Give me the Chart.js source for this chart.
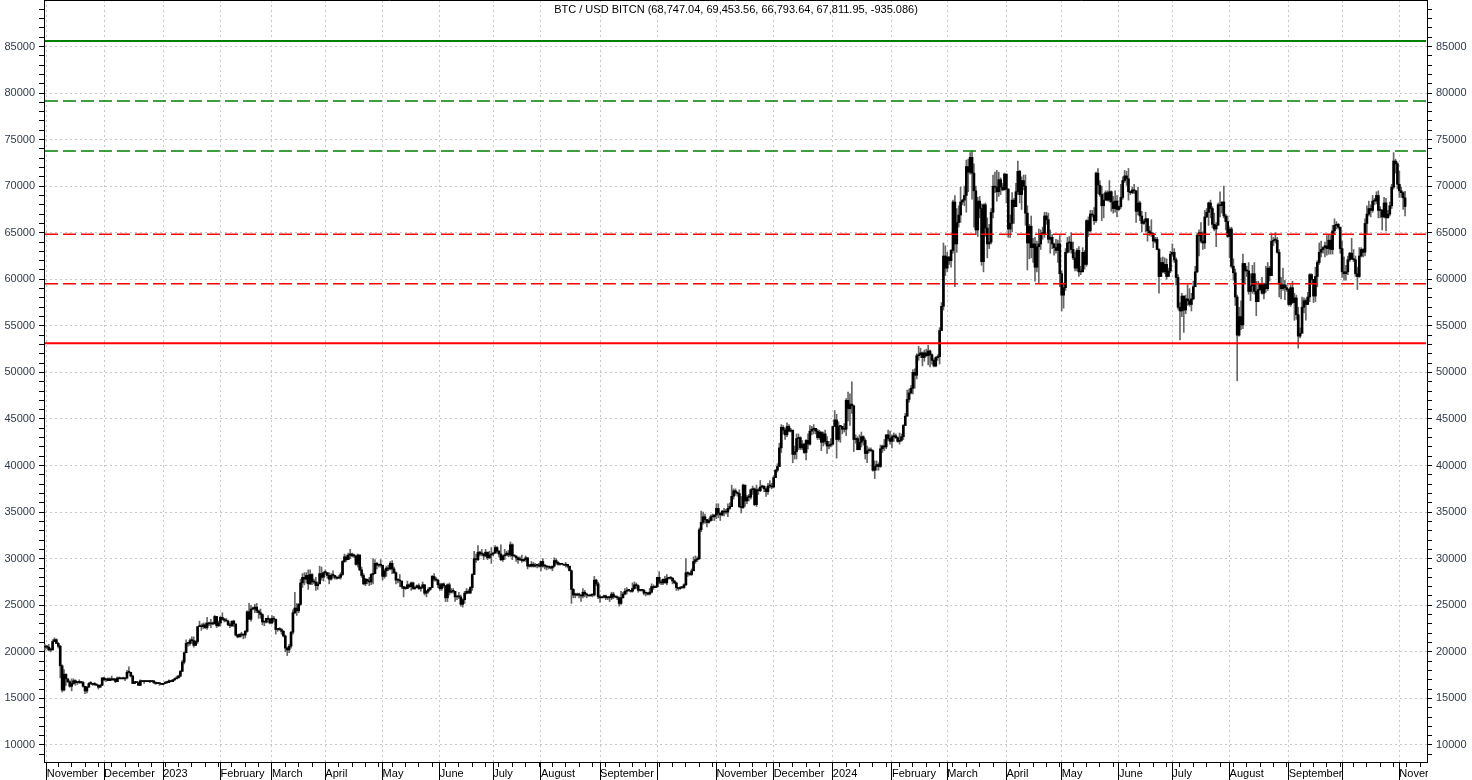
<!DOCTYPE html>
<html>
<head>
<meta charset="utf-8">
<style>
  html, body { margin: 0; padding: 0; background: #fff; }
  #chart { display: block; }
</style>
<script src="https://cdn.jsdelivr.net/npm/chart.js@4.4.1/dist/chart.umd.min.js"></script>
</head>
<body>
<canvas id="chart" width="1472" height="780"></canvas>
<script>
const titleText = 'BTC / USD BITCN (68,747.04, 69,453.56, 66,793.64, 67,811.95, -935.086)';

// month names as printed under the axis (October is not printed on the source)
const monthLabels = ['', 'November', 'December', '2023', 'February', 'March', 'April', 'May', 'June', 'July',
    'August', 'September', '', 'November', 'December', '2024', 'February', 'March', 'April', 'May', 'June',
    'July', 'August', 'September', '', 'November'];
// daily bars present in each of those months
const monthBarCounts = [1, 30, 31, 30, 27, 28, 30, 30, 28, 25, 31, 30, 31, 30, 31, 31, 29, 31, 29, 30, 28, 30, 31, 28, 30, 4];
const emptyBarsAfter = 11;

// daily values, thousands of USD, one row per month
const closesK = [
    20.5,
    20.5,20.2,20.2,21.1,21.3,20.9,20.6,18.5,15.9,17.6,17.1,16.8,16.3,16.6,16.9,16.7,16.7,16.7,16.7,16.3,15.8,16.2,16.6,16.6,16.5,16.5,16.4,16.2,16.4,17.2,
    17.0,17.1,16.9,17.1,17.0,17.1,16.8,17.2,17.1,17.1,17.1,17.2,17.8,17.8,17.4,16.6,16.8,16.7,16.4,16.9,16.8,16.8,16.8,16.8,16.8,16.9,16.7,16.6,16.6,16.6,16.5,
    16.6,16.7,16.7,16.9,16.8,17.0,17.1,17.2,17.4,17.9,18.9,19.9,20.9,20.9,21.2,21.2,20.7,21.1,22.7,22.8,22.7,22.9,22.6,23.1,23.0,23.1,23.0,23.8,22.8,23.1,
    23.7,23.5,23.4,23.3,22.9,22.8,23.3,23.0,21.8,21.6,21.9,21.8,21.8,22.2,24.3,23.5,24.6,24.6,24.8,24.4,24.2,24.0,23.2,23.2,23.6,23.5,23.1,
    23.6,23.5,22.4,22.4,22.4,22.2,21.7,20.4,20.2,20.6,22.1,24.2,24.7,24.4,25.1,27.4,28.0,27.8,28.2,27.3,28.3,27.5,27.5,27.1,27.3,28.4,28.0,28.5,
    28.5,28.2,27.8,28.2,28.2,28.0,27.9,28.0,28.3,29.7,30.2,29.9,30.4,30.5,30.3,30.3,29.4,30.4,28.8,28.2,27.3,27.8,27.6,27.5,28.3,28.4,29.5,29.3,29.3,29.3,
    28.1,28.7,29.0,28.9,29.5,28.9,28.5,27.7,27.7,27.6,27.0,26.8,26.8,27.2,27.0,27.4,26.8,26.9,27.1,26.8,26.9,27.2,26.3,26.5,26.7,26.9,28.1,27.8,27.7,27.2,
    26.8,27.3,27.1,25.8,27.2,26.4,26.5,26.5,25.9,25.9,25.9,25.1,25.6,26.3,26.5,26.3,26.9,28.3,30.0,29.9,30.7,30.5,30.5,30.3,30.7,30.1,30.4,30.5,
    30.6,31.2,30.8,30.5,29.9,30.3,30.4,30.6,30.4,31.5,30.3,30.3,30.1,29.9,29.9,29.8,29.9,30.1,29.2,29.2,29.4,29.2,29.3,29.3,29.2,
    29.7,29.2,29.2,29.1,29.1,29.0,29.2,29.8,29.6,29.4,29.4,29.4,29.3,29.4,29.2,28.7,26.7,26.1,26.1,26.2,26.1,26.0,26.4,26.2,26.1,26.0,26.1,26.1,27.7,27.3,25.9,
    25.8,25.9,26.0,25.8,25.8,25.8,26.2,25.9,25.9,25.8,25.2,25.8,26.2,26.5,26.6,26.6,26.5,26.8,27.2,27.1,26.6,26.6,26.6,26.3,26.3,26.2,26.4,27.0,26.9,27.0,
    28.0,27.5,27.4,27.8,27.4,27.9,28.0,27.9,27.6,27.4,26.9,26.8,26.9,26.9,27.2,28.5,28.4,28.3,28.7,29.7,29.9,30.0,33.1,33.9,34.5,34.2,33.9,34.1,34.5,34.5,34.7,
    35.4,34.9,34.7,35.1,35.0,35.0,35.4,35.6,36.7,37.3,37.1,37.0,35.6,35.5,37.9,36.2,36.6,36.6,37.4,37.5,35.8,37.4,37.3,37.7,37.8,37.5,37.2,37.8,37.8,37.7,
    38.7,39.5,39.9,41.9,44.1,43.8,43.3,44.2,43.7,43.8,41.2,41.5,42.9,43.0,41.9,42.3,41.4,42.7,42.3,43.7,43.9,44.0,43.7,43.0,43.6,42.5,43.4,42.6,42.1,42.2,42.3,
    44.2,44.9,42.8,44.2,44.2,43.9,43.9,47.0,46.1,46.6,46.4,42.8,42.9,41.7,42.5,43.1,42.7,41.3,41.6,41.6,41.6,39.5,39.9,40.1,39.9,41.8,42.1,42.0,43.3,42.9,42.6,
    43.1,43.2,43.0,42.6,42.7,43.1,44.3,45.3,47.1,47.8,48.3,50.0,49.7,51.8,51.9,52.1,51.6,52.1,51.8,52.3,51.9,51.3,50.7,51.6,51.7,54.5,57.1,62.5,61.2,
    62.4,62.0,63.1,68.3,63.8,66.1,66.9,68.3,68.5,69.0,72.1,71.5,73.1,71.4,69.5,65.3,68.4,67.6,61.9,68.0,65.5,63.8,64.0,67.2,70.0,69.9,69.4,70.7,69.9,69.6,71.3,
    69.7,65.4,66.0,68.5,67.8,69.4,71.6,69.1,70.6,70.0,67.1,63.9,65.7,63.4,63.8,61.3,63.5,63.8,64.9,64.9,66.8,66.4,64.3,64.5,63.8,63.4,63.1,63.8,60.6,
    58.3,59.1,62.9,63.9,64.0,63.2,62.3,61.2,63.1,60.8,60.8,62.9,61.6,66.3,65.2,67.0,66.9,66.3,71.4,70.1,69.1,67.9,68.5,69.3,68.5,69.4,68.3,67.6,68.4,67.5,
    67.8,68.8,70.6,71.1,70.8,69.4,69.3,69.6,69.5,67.3,68.2,66.8,66.0,66.2,66.5,65.2,65.0,64.9,64.1,64.3,63.2,60.3,61.8,60.8,61.6,60.3,60.9,62.7,
    62.9,62.1,60.2,57.0,56.6,58.2,56.7,57.9,57.7,57.3,57.9,59.2,60.8,64.7,65.0,64.1,63.9,66.7,67.2,68.2,67.6,65.9,65.4,65.8,68.0,67.9,68.3,66.8,66.2,64.6,
    65.4,61.4,60.7,58.1,54.0,56.0,55.1,61.7,60.9,60.9,58.7,59.3,60.6,58.7,57.6,58.9,59.5,58.5,59.5,59.0,61.2,60.4,64.1,64.2,64.2,62.9,59.5,59.0,59.4,59.1,58.9,
    57.3,59.1,57.5,58.0,56.2,53.9,54.2,57.0,57.7,57.3,58.1,60.5,60.0,58.2,60.3,61.8,62.9,63.2,63.4,63.6,63.3,64.2,63.2,65.2,65.8,65.9,65.6,63.3,
    60.8,60.6,60.8,62.1,62.8,62.2,62.1,60.6,60.3,62.5,63.2,62.9,66.0,67.0,67.6,67.4,68.4,68.4,69.0,67.4,67.4,66.7,68.2,66.6,67.0,67.9,69.9,72.7,72.4,70.2,
    69.5,69.3,68.747,67.812,
];
const highsK = [
    20.8,
    20.7,20.8,20.4,21.3,21.5,21.4,21.0,20.7,18.6,18.1,17.6,17.1,16.9,17.1,17.1,17.0,16.8,17.0,16.8,16.8,16.3,16.3,16.7,16.8,16.6,16.7,16.6,16.5,16.5,17.2,
    17.3,17.1,17.2,17.2,17.4,17.1,17.1,17.3,17.3,17.2,17.3,17.2,18.0,18.4,17.8,17.5,16.8,16.8,16.8,17.0,16.9,16.9,16.9,16.9,16.9,16.9,16.9,16.8,16.7,16.6,16.6,
    16.6,16.8,16.8,17.0,16.9,17.0,17.2,17.4,17.5,18.0,19.1,20.0,21.3,21.0,21.4,21.6,21.6,21.2,22.7,23.3,23.0,23.1,23.1,23.7,23.2,23.5,23.2,23.9,23.8,23.3,
    23.8,24.2,23.6,23.6,23.4,23.1,23.3,23.4,22.9,21.9,21.9,22.1,21.9,22.3,24.4,25.2,25.0,24.8,25.1,25.2,24.5,24.6,24.1,23.2,23.6,23.9,23.6,
    23.9,23.8,23.5,22.4,22.6,22.5,22.3,21.8,20.5,20.8,22.2,24.5,26.4,25.2,25.2,27.8,28.4,28.5,28.5,28.8,28.8,28.4,27.8,28.0,27.5,29.2,29.1,28.6,
    28.8,28.5,28.5,28.4,28.7,28.2,28.1,28.2,28.5,29.8,30.5,30.4,30.6,31.0,30.6,30.5,30.3,30.5,30.4,29.1,28.4,27.9,27.8,28.0,28.4,30.0,29.9,29.6,29.4,29.9,
    29.3,28.9,29.2,29.3,29.7,29.8,29.1,28.6,27.8,28.3,27.6,27.0,27.0,27.6,27.3,27.5,27.5,27.0,27.2,27.3,27.0,27.5,27.2,26.6,26.9,26.9,28.2,28.4,28.0,27.8,
    27.4,27.3,27.4,27.1,27.3,27.4,26.8,26.8,26.5,26.0,26.4,26.1,25.7,26.5,26.8,26.7,27.0,28.4,30.8,30.5,31.4,30.8,31.0,30.6,31.0,30.7,30.8,31.2,
    30.7,31.4,31.3,30.9,31.5,30.4,31.0,30.8,30.9,31.8,31.6,30.4,30.3,30.2,30.2,30.4,30.0,30.3,30.1,29.4,29.7,29.6,29.5,29.4,29.5,
    29.7,30.0,29.4,29.3,29.1,29.2,29.2,30.1,30.0,29.7,29.5,29.5,29.4,29.6,29.4,29.2,28.8,26.8,26.3,26.3,26.3,26.1,26.8,26.6,26.3,26.1,26.2,26.2,28.1,27.8,27.5,
    26.1,25.9,26.1,26.1,25.9,26.0,26.4,26.4,25.9,26.0,25.9,26.5,26.4,26.8,26.9,26.7,26.6,27.4,27.5,27.4,27.2,26.7,26.6,26.7,26.4,26.4,26.8,27.3,27.2,27.1,
    28.0,28.6,27.7,27.8,28.1,28.3,28.0,28.1,28.0,27.7,27.5,26.8,27.0,26.9,27.3,30.0,28.6,28.5,28.9,30.2,30.3,30.2,33.3,35.1,35.0,34.8,34.2,34.3,34.7,34.8,34.7,
    35.9,35.9,34.9,35.2,35.4,35.3,35.9,36.0,37.9,37.5,37.5,37.2,37.4,36.7,38.0,37.9,36.8,36.9,37.5,37.8,37.6,37.9,37.6,38.4,37.9,37.8,37.6,38.1,38.4,38.1,
    38.9,39.6,40.2,42.4,44.4,44.3,44.0,44.6,44.4,44.0,43.8,42.1,43.4,43.4,43.1,42.7,42.4,42.8,43.4,44.3,44.2,44.4,43.8,43.9,43.8,43.6,43.6,43.8,43.1,42.6,42.9,
    44.2,45.9,45.5,44.7,44.3,44.2,44.5,47.2,47.9,47.7,49.0,46.5,43.3,43.1,43.3,43.6,43.2,42.9,42.1,41.9,41.9,41.7,40.5,40.5,40.3,42.2,42.2,42.8,43.3,43.8,43.7,
    43.3,43.5,43.4,43.1,43.5,43.4,44.4,45.6,48.1,48.2,48.6,50.3,50.4,52.0,52.8,52.6,52.2,52.4,52.5,52.9,52.4,52.0,51.5,51.7,51.9,54.8,57.5,63.9,63.6,
    62.9,62.4,63.2,68.5,69.0,67.6,67.9,69.9,68.6,70.0,72.8,72.9,73.6,73.8,72.4,70.0,68.8,68.9,68.1,68.1,68.2,66.6,65.9,67.6,71.2,71.5,71.7,71.5,70.9,70.3,71.4,
    71.3,69.7,66.9,69.3,68.7,70.3,72.7,71.7,71.0,71.2,71.2,67.9,65.9,66.8,64.4,64.5,64.1,65.4,65.3,65.6,67.2,67.2,67.1,65.3,64.8,63.9,64.3,64.2,64.7,
    60.9,59.6,63.3,64.5,64.6,65.0,64.0,62.9,63.3,63.5,61.4,63.4,63.1,66.4,66.7,67.4,67.4,67.7,71.5,71.9,70.6,70.0,69.2,69.5,69.5,70.6,69.5,68.9,69.5,69.0,
    67.9,70.2,71.0,71.7,71.6,71.9,69.5,69.9,70.2,69.5,69.9,68.4,67.3,66.4,67.2,66.5,65.7,66.4,65.0,64.5,64.5,63.3,62.3,62.4,62.3,62.2,61.2,63.0,
    63.8,63.3,62.3,60.5,57.5,58.5,58.2,58.3,59.4,59.0,58.5,59.8,61.4,64.9,65.3,66.1,65.1,67.4,67.6,68.3,68.5,67.8,67.1,66.1,68.2,69.4,68.3,70.0,67.0,66.8,
    65.6,65.6,62.2,61.1,58.3,57.0,57.7,62.7,61.7,61.4,61.8,60.6,61.5,61.8,59.8,59.8,59.6,60.2,59.6,61.4,61.8,61.4,64.9,64.5,65.0,64.5,63.2,60.2,61.2,59.9,59.4,
    59.0,59.4,59.8,58.5,58.3,57.0,54.8,58.1,58.0,57.9,58.6,60.6,60.6,59.2,61.3,62.0,63.9,64.1,63.5,64.0,64.7,64.8,64.7,65.8,66.5,66.2,66.0,65.6,
    64.1,62.4,61.5,62.5,62.9,64.4,63.2,62.5,61.3,63.4,63.4,63.3,66.5,67.9,68.4,68.0,69.0,68.7,69.4,69.5,67.8,67.5,68.8,68.7,67.4,68.3,70.2,73.6,72.9,72.6,
    71.6,69.9,69.4,69.454,
];
const lowsK = [
    20.2,
    20.3,20.1,20.0,20.2,21.1,20.9,20.4,17.2,15.7,15.8,16.4,16.7,16.2,15.8,16.5,16.4,16.5,16.6,16.6,16.2,15.5,15.6,16.2,16.5,16.4,16.4,16.4,16.0,16.2,16.4,
    16.9,16.8,16.9,16.9,16.9,16.9,16.7,16.8,17.1,17.1,17.1,16.9,17.1,17.7,17.3,16.6,16.6,16.7,16.4,16.4,16.8,16.6,16.8,16.8,16.7,16.8,16.6,16.5,16.6,16.4,16.5,
    16.5,16.6,16.6,16.7,16.8,16.8,16.9,17.1,17.2,17.3,17.9,18.7,19.9,20.6,20.7,20.9,20.5,20.7,20.9,22.7,22.3,22.5,22.5,22.4,22.8,22.6,22.9,23.0,22.6,22.7,
    22.8,23.4,23.2,23.3,22.8,22.6,22.7,22.7,21.7,21.5,21.6,21.6,21.4,21.5,22.1,23.5,23.3,24.5,24.2,24.2,23.6,23.6,22.9,22.8,23.1,23.1,23.0,
    23.0,23.2,21.9,22.2,22.3,21.9,21.6,20.0,19.6,19.9,20.4,21.9,24.1,23.9,24.2,25.0,26.9,27.2,27.4,26.7,27.2,27.2,27.3,26.6,26.7,27.3,27.7,27.6,
    28.3,27.9,27.3,27.7,27.9,27.8,27.8,27.9,27.8,28.2,29.6,29.7,29.9,30.0,30.2,30.1,29.3,29.1,28.7,28.0,27.2,27.1,27.3,27.1,27.2,27.3,28.4,28.9,29.1,29.1,
    27.7,27.9,28.1,28.7,28.8,28.4,28.4,27.3,27.4,27.0,26.8,25.9,26.7,26.8,26.9,26.6,26.7,26.7,26.9,26.7,26.5,26.8,26.1,25.9,26.3,26.6,26.9,27.6,27.6,26.9,
    26.6,26.6,26.9,25.4,25.4,26.1,26.3,26.3,25.4,25.6,25.7,24.9,24.8,25.2,26.2,26.3,26.3,26.6,28.3,29.6,29.8,30.3,30.3,29.9,30.2,29.9,30.0,29.5,
    30.3,30.6,30.6,30.2,29.8,29.7,29.9,30.3,30.2,30.2,29.9,30.2,29.7,29.5,29.8,29.6,29.7,29.7,28.9,29.1,29.1,29.1,29.1,29.0,29.1,
    28.7,29.1,28.9,28.8,28.9,28.9,28.7,29.1,29.4,29.3,29.3,29.4,29.3,29.1,29.0,28.7,25.2,25.8,25.8,26.0,25.8,25.4,25.8,25.9,25.8,26.0,26.0,25.9,26.0,27.1,25.7,
    25.3,25.8,25.8,25.6,25.6,25.4,25.6,25.7,25.8,25.6,24.9,25.1,25.8,26.1,26.2,26.5,26.4,26.4,26.7,26.8,26.4,26.5,26.5,26.1,26.0,26.1,26.1,26.3,26.7,26.9,
    26.9,27.3,27.2,27.2,27.4,27.2,27.8,27.8,27.3,27.3,26.6,26.6,26.7,26.8,26.8,27.1,28.1,28.2,28.2,28.7,29.5,29.7,29.9,32.9,33.7,33.8,33.4,33.8,34.0,34.1,34.1,
    34.3,34.4,34.1,34.6,34.6,34.8,34.5,35.3,35.6,36.4,36.8,36.7,35.5,34.9,35.4,35.6,35.9,36.2,36.4,36.9,35.7,35.6,36.9,37.2,37.6,37.2,36.7,36.9,37.6,37.5,
    37.6,38.7,39.3,39.9,41.4,43.4,42.8,43.1,43.6,43.6,40.3,40.7,40.7,41.7,41.7,41.7,41.3,40.6,41.8,42.2,43.3,43.4,43.4,42.8,42.8,41.6,42.1,42.3,41.3,41.8,42.0,
    42.2,44.2,40.8,42.6,42.5,43.4,43.6,43.2,44.8,44.3,45.6,41.5,42.4,41.7,41.7,42.0,42.2,40.7,40.3,41.4,41.5,39.4,38.6,39.5,39.5,39.8,41.4,41.6,41.8,42.7,42.3,
    41.9,42.6,42.9,42.5,42.3,42.6,42.8,44.3,45.3,46.8,47.7,47.7,48.3,49.3,51.3,51.6,50.7,51.2,51.7,50.8,50.6,50.9,50.6,50.6,51.3,50.9,54.5,56.7,60.4,
    60.8,61.6,61.3,62.8,59.2,62.9,65.6,66.1,68.0,67.9,67.2,69.4,71.3,68.6,65.6,64.8,64.6,66.6,61.5,60.8,64.6,62.3,63.3,63.8,66.6,69.3,68.4,68.9,69.1,69.5,69.6,
    68.2,64.5,64.5,65.1,66.0,68.8,69.1,68.2,67.5,69.6,65.8,61.0,62.2,62.3,61.8,59.8,60.8,59.6,63.2,64.3,64.5,65.9,63.9,62.8,63.3,62.6,62.8,61.8,59.2,
    56.6,56.9,58.8,62.8,62.9,62.8,62.1,60.9,60.9,60.3,60.5,60.8,61.1,61.4,64.6,65.1,66.7,65.9,66.1,69.2,68.9,66.3,66.6,68.5,68.4,68.3,67.3,67.1,67.2,66.7,
    67.4,67.6,68.6,70.4,70.1,68.5,69.1,69.2,69.2,66.1,66.9,66.3,65.1,65.9,65.1,64.1,64.7,64.6,63.4,63.9,63.2,58.5,60.3,60.7,60.6,60.0,60.4,60.7,
    62.5,61.8,59.4,56.8,53.5,56.0,54.3,56.3,57.2,57.1,56.6,57.8,59.3,60.7,62.5,63.9,63.2,63.3,66.6,65.8,66.6,65.5,65.2,63.5,65.8,66.7,67.1,66.6,65.3,64.5,
    62.3,61.2,59.9,57.2,49.1,53.9,54.6,54.7,59.6,60.3,58.4,57.7,58.5,58.4,56.1,57.7,58.8,58.4,57.9,58.6,58.8,59.8,60.4,63.6,63.9,62.8,58.1,57.9,58.8,57.8,58.7,
    57.2,57.1,57.4,55.6,55.7,52.6,53.7,54.6,56.4,55.6,57.3,57.6,59.5,57.5,57.6,59.2,61.6,62.4,62.8,62.4,62.6,62.7,62.7,62.7,64.9,65.4,65.4,62.8,
    60.2,59.9,59.9,60.5,61.9,62.1,61.9,60.3,58.9,60.2,62.4,62.4,62.5,64.8,66.8,66.7,67.2,68.0,68.1,66.6,66.6,65.3,66.6,65.2,66.6,66.8,67.6,69.7,71.4,69.7,
    68.8,68.8,67.5,66.794,
];

// horizontal study lines drawn on the source, USD
const levelValues = [85590, 79145, 73776, 64830, 59530, 53130];
const levelStyles = [
    { color: '#008000', width: 2, dash: [] },
    { color: '#008000', width: 1.5, dash: [13, 5] },
    { color: '#008000', width: 1.5, dash: [13, 5] },
    { color: '#ff0000', width: 1.5, dash: [13, 5] },
    { color: '#ff0000', width: 1.5, dash: [13, 5] },
    { color: '#ff0000', width: 2, dash: [] },
];

const barTotal = monthBarCounts.reduce((a, b) => a + b, 0);
if ([closesK, highsK, lowsK].some(a => a.length !== barTotal)) {
    throw new Error('bar count mismatch ' + closesK.length + ' ' + highsK.length + ' ' + lowsK.length + ' vs ' + barTotal);
}

const usd = v => Math.round(v * 1000);

// one category per bar, month name on the first bar of each month
const labels = [];
const monthStarts = [];
monthBarCounts.forEach((n, m) => {
    if (m > 0) monthStarts.push(labels.length);
    for (let i = 0; i < n; i++) labels.push(i === 0 ? monthLabels[m] : '');
});
for (let i = 0; i < emptyBarsAfter; i++) labels.push('');

const monthSet = new Set(monthStarts);
const xTicks = new Set(monthStarts);
for (let i = 7; i < labels.length; i += 7) xTicks.add(i);
const xTickValues = [...xTicks].sort((a, b) => a - b);

const yTickValues = [];
for (let v = 9000; v <= 89000; v += 1000) yTickValues.push(v);

// the feed opens each bar at the previous close
const bodies = closesK.map((c, i) => [usd(i ? closesK[i - 1] : c), usd(c)]);
const ranges = highsK.map((h, i) => [usd(lowsK[i]), usd(h)]);

const gridColor = '#c8c8c8';
const fontFamily = '"Liberation Sans", Arial, sans-serif';

const levelSets = levelValues.map((v, i) => ({
    type: 'line',
    data: labels.map(() => v),
    borderColor: levelStyles[i].color,
    borderWidth: levelStyles[i].width,
    borderDash: levelStyles[i].dash,
    pointRadius: 0,
    fill: false,
    order: 0,
}));

const framePlugin = {
    id: 'frame',
    afterDraw(chart) {
        const { ctx, chartArea } = chart;
        const x = chart.scales.x;
        ctx.save();
        // the axis labels stop at the right edge of the plot
        ctx.fillStyle = '#fff';
        ctx.fillRect(chartArea.right + 1, chartArea.bottom + 1, chart.width, chart.height);
        ctx.strokeStyle = '#000';
        ctx.lineWidth = 1;
        ctx.beginPath();
        ctx.moveTo(chartArea.left, chartArea.top + 0.5);
        ctx.lineTo(chartArea.right, chartArea.top + 0.5);
        monthStarts.forEach(i => {
            const px = Math.round(x.getPixelForValue(i) - 0.5) + 0.5;
            ctx.moveTo(px, chartArea.bottom);
            ctx.lineTo(px, chart.height);
        });
        ctx.stroke();
        ctx.fillStyle = '#000';
        ctx.font = '11px ' + fontFamily;
        ctx.textAlign = 'center';
        ctx.textBaseline = 'middle';
        ctx.fillText(titleText, chart.width / 2, 10);
        ctx.restore();
    }
};

const yAxis = (position, width) => ({
    type: 'linear',
    position,
    min: 8170,
    max: 89990,
    afterBuildTicks: s => { s.ticks = yTickValues.map(v => ({ value: v })); },
    afterFit: s => { s.width = width; s.paddingTop = 0; s.paddingBottom = 0; },
    grid: {
        drawOnChartArea: position === 'left',
        color: c => (c.tick && c.tick.value % 5000 === 0) ? gridColor : 'rgba(0,0,0,0)',
        tickColor: '#000',
        tickLength: 5,
    },
    border: { color: '#000', width: 1, dash: [2, 3] },
    ticks: {
        autoSkip: false,
        padding: 4,
        color: '#2f3b4c',
        font: { family: fontFamily, size: 11 },
        callback: v => (v % 5000 === 0 ? String(v) : ''),
    },
});

new Chart(document.getElementById('chart'), {
    type: 'bar',
    data: {
        labels,
        datasets: [
            ...levelSets,
            { data: bodies, backgroundColor: '#000', barThickness: 2, minBarLength: 1, grouped: false, order: 1 },
            { data: ranges, backgroundColor: '#666', barThickness: 1, grouped: false, order: 2 },
        ]
    },
    options: {
        responsive: false,
        devicePixelRatio: 1,
        animation: false,
        events: [],
        layout: { padding: 0 },
        plugins: {
            legend: { display: false },
            tooltip: { enabled: false },
        },
        scales: {
            x: {
                type: 'category',
                offset: true,
                afterBuildTicks: s => { s.ticks = xTickValues.map(v => ({ value: v })); },
                afterFit: s => { s.height = 18; s.paddingLeft = 0; s.paddingRight = 0; },
                grid: {
                    offset: false,
                    color: c => (c.tick && monthSet.has(c.tick.value)) ? gridColor : 'rgba(0,0,0,0)',
                    tickColor: '#000',
                    tickLength: 5,
                },
                border: { color: '#000', width: 1, dash: [2, 3] },
                ticks: {
                    autoSkip: false,
                    maxRotation: 0,
                    minRotation: 0,
                    align: 'start',
                    padding: 0,
                    color: '#000',
                    font: { family: fontFamily, size: 11 },
                },
            },
            y: yAxis('left', 44),
            y2: yAxis('right', 45),
        }
    },
    plugins: [framePlugin]
});
</script>
</body>
</html>
